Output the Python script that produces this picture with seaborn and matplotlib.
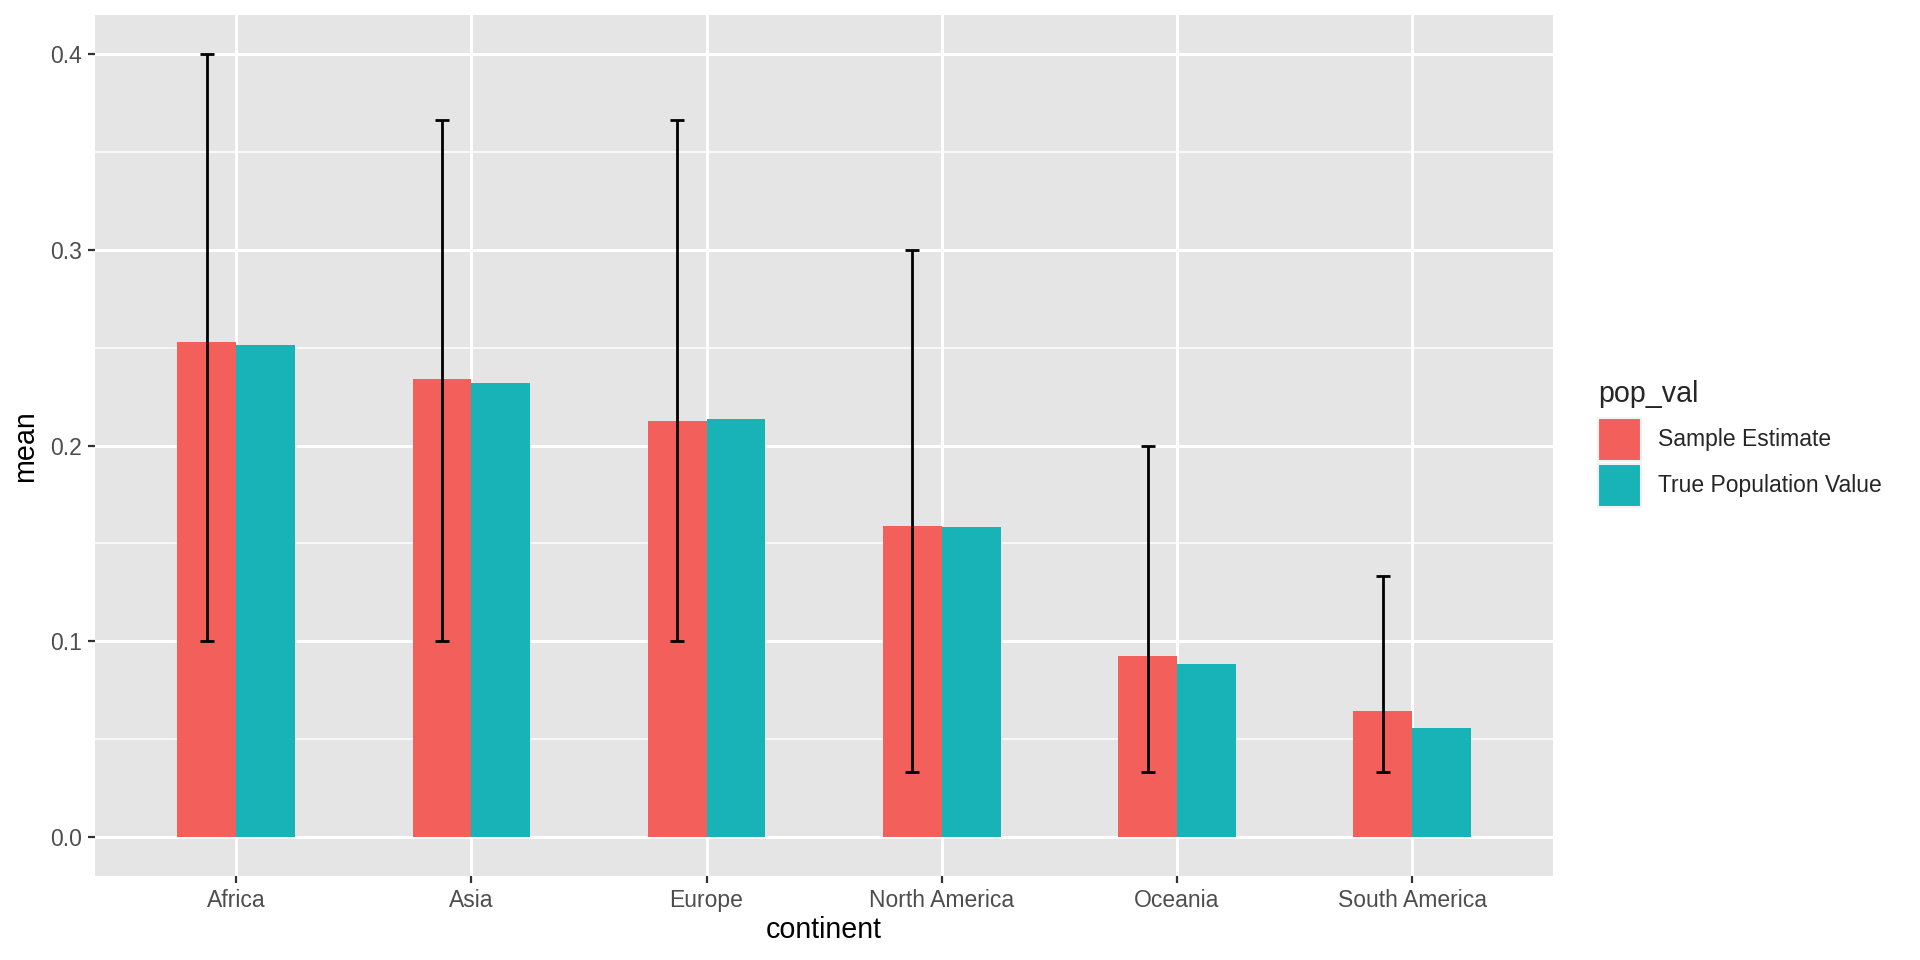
import matplotlib
matplotlib.use("Agg")
import matplotlib.pyplot as plt
import seaborn as sns
import pandas as pd
from matplotlib.ticker import MultipleLocator

# --- Data ---
continents = ['Africa', 'Asia', 'Europe', 'North America', 'Oceania', 'South America']
groups = ['Sample Estimate', 'True Population Value']
sample_mean = [0.2529, 0.2341, 0.2124, 0.1590, 0.0926, 0.0643]
true_mean = [0.2516, 0.2322, 0.2138, 0.1584, 0.0883, 0.0557]
ci_low = [0.1000, 0.1000, 0.1000, 0.0333, 0.0333, 0.0333]
ci_high = [0.4000, 0.3667, 0.3667, 0.3000, 0.2000, 0.1333]

df = pd.DataFrame({
    'continent': continents * 2,
    'pop_val': [groups[0]] * len(continents) + [groups[1]] * len(continents),
    'mean': sample_mean + true_mean,
})

colors = ['#F35F5B', '#18B3B7']
grey_txt = '#4D4D4D'
small = 16.5   # tick / legend text
big = 20.6     # axis / legend titles

# --- Style (ggplot-ish) ---
sns.set_theme(style="darkgrid", rc={
    'axes.facecolor': '#E5E5E5',
    'grid.color': 'white',
    'axes.edgecolor': 'none',
})
plt.rcParams['font.family'] = ['Liberation Sans', 'DejaVu Sans']

fig = plt.figure(figsize=(19.2, 9.6), dpi=100)
ax = fig.add_axes([0.0495, 0.0875, 0.7595, 0.8965])

sns.barplot(data=df, x='continent', y='mean', hue='pop_val', order=continents,
            hue_order=groups, palette=colors, width=0.5, saturation=1,
            errorbar=None, ax=ax, legend=True, linewidth=0)

# error bars centred on the sample estimate bars
sample_bars = ax.containers[0]
xs = [p.get_x() + p.get_width() / 2 for p in sample_bars]
ys = [p.get_height() for p in sample_bars]
lower = [y - lo for y, lo in zip(ys, ci_low)]
upper = [hi - y for y, hi in zip(ys, ci_high)]
ax.errorbar(xs, ys, yerr=[lower, upper], fmt='none', ecolor='black',
            elinewidth=2.0, capsize=4.7, capthick=2.0, zorder=5)

# axes limits like ggplot expansion
ax.set_xlim(-0.6, len(continents) - 0.4)
ax.set_ylim(-0.02, 0.42)
ax.yaxis.set_major_locator(MultipleLocator(0.1))
ax.yaxis.set_minor_locator(MultipleLocator(0.05))
ax.set_yticks([0.0, 0.1, 0.2, 0.3, 0.4])
ax.set_yticklabels(['0.0', '0.1', '0.2', '0.3', '0.4'])

ax.grid(which='major', color='white', linewidth=2.2)
ax.grid(which='minor', axis='y', color='white', linewidth=1.1)
ax.grid(which='minor', axis='x', visible=False)
ax.set_axisbelow(True)

ax.tick_params(axis='both', which='major', length=5, width=1.6, color='#333333',
               labelcolor=grey_txt, labelsize=small, pad=4.5)
ax.tick_params(axis='both', which='minor', length=0)
ax.tick_params(axis='x', bottom=True)
ax.tick_params(axis='y', left=True)

ax.set_xlabel('continent', fontsize=big, color='black', labelpad=3)
ax.set_ylabel('mean', fontsize=big, color='black', labelpad=8)

# legend outside on the right
handles, labels = ax.get_legend_handles_labels()
ax.get_legend().remove()
leg = fig.legend(handles, labels, title='pop_val', loc='upper left',
                 bbox_to_anchor=(0.8323, 0.604), frameon=False, fontsize=small,
                 title_fontsize=big, handlelength=1.88, handleheight=2.51,
                 labelspacing=0.12, handletextpad=0.74, borderaxespad=0,
                 borderpad=0)
leg._legend_box.align = 'left'
leg._legend_box.sep = 7
for h in leg.legend_handles:
    h.set_edgecolor('#F2F2F2')
    h.set_linewidth(1.5)

fig.savefig('out.png', dpi=100)
